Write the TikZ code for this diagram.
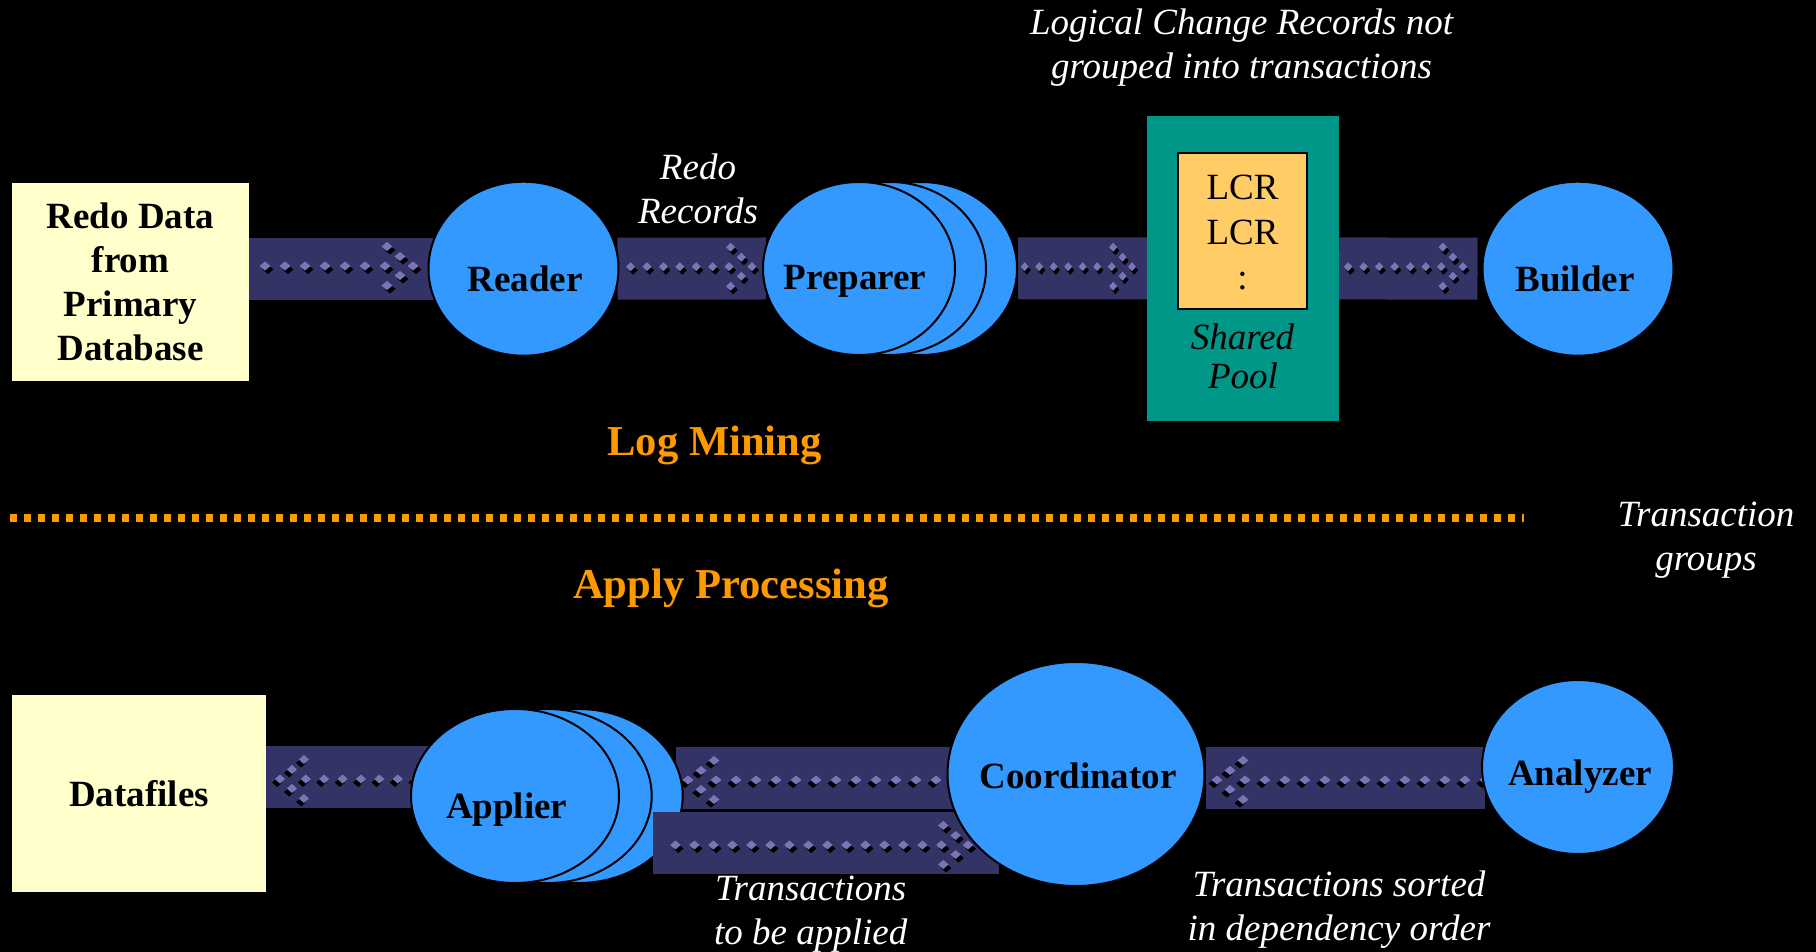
\documentclass[tikz,border=0pt]{standalone}
\usepackage{fontspec}
\setmainfont{Liberation Serif}
\usetikzlibrary{shapes.geometric}
\definecolor{boxyellow}{HTML}{FFFFCC}
\definecolor{procblue}{HTML}{3399FF}
\definecolor{bandcol}{HTML}{333366}
\definecolor{dotlt}{HTML}{7A76B4}
\definecolor{poolteal}{HTML}{009688}
\definecolor{lcrorange}{HTML}{FFCC66}
\definecolor{headorange}{HTML}{FF9900}
\pgfdeclarelayer{back}
\pgfdeclarelayer{bg}
\pgfdeclarelayer{fg}
\pgfsetlayers{back,bg,main,fg}
\tikzset{
  src/.style={rectangle, fill=boxyellow, inner sep=0pt, align=center, font=\bfseries\fontsize{37}{44}\selectfont},
  proc/.style={ellipse, fill=procblue, draw=black, line width=2pt, inner sep=0pt},
  plbl/.style={anchor=base, inner sep=0pt, font=\bfseries\fontsize{37}{44}\selectfont},
  note/.style={anchor=base, inner sep=0pt, text=white, font=\itshape\fontsize{37}{44}\selectfont},
  poolnote/.style={anchor=base, inner sep=0pt, text=black, font=\itshape\fontsize{37}{44}\selectfont},
  lcrtxt/.style={anchor=base, inner sep=0pt, text=black, font=\fontsize{37}{44}\selectfont},
  head/.style={anchor=base, inner sep=0pt, text=headorange, font=\bfseries\fontsize{42.6}{50}\selectfont},
  band/.style={draw=bandcol, line width=62pt},
  pics/dotarrow/.style 2 args={code={
    \begin{scope}[xscale=#1]
      \foreach \dx/\dy in {0/0,-13/-9.5,-13/9.5,-26/-19.5,-26/19.5}{
        \fill[black] (\dx+3,\dy+3.5) +(-5.5,0) -- +(0,-4.5) -- +(5.5,0) -- +(0,4.5) -- cycle;
        \fill[dotlt] (\dx,\dy) +(-5.5,0) -- +(0,-4.5) -- +(5.5,0) -- +(0,4.5) -- cycle;
      }
      \foreach \i in {1,...,#2}{
        \fill[black] (-8-20*\i+3,3.5) +(-5.5,0) -- +(0,-4.5) -- +(5.5,0) -- +(0,4.5) -- cycle;
        \fill[dotlt] (-8-20*\i,0) +(-5.5,0) -- +(0,-4.5) -- +(5.5,0) -- +(0,4.5) -- cycle;
      }
    \end{scope}
  }},
  sepline/.style={draw=headorange, line width=8pt, dash pattern=on 7pt off 7pt},
}
\begin{document}
\begin{tikzpicture}[x=1pt,y=-1pt]
\begin{pgfonlayer}{back}
  \fill[black] (0,0) rectangle (1816,952);
\end{pgfonlayer}
\useasboundingbox (0,0) rectangle (1816,952);

% ---------- top row ----------
\node[src, minimum width=237pt, minimum height=198pt] (redo) at (130.5,282) {Redo Data\\from\\Primary\\Database};
\node[proc, minimum width=190pt, minimum height=174pt] (reader) at (523.5,268.7) {};
\node[proc, minimum width=192pt, minimum height=173pt] (prep3) at (921,268.5) {};
\node[proc, minimum width=192pt, minimum height=173pt] (prep2) at (890,268.5) {};
\node[proc, minimum width=192pt, minimum height=173pt] (prep) at (859,268.5) {};
\node[fill=poolteal, inner sep=0pt, minimum width=192pt, minimum height=305pt] (pool) at (1243,268.4) {};
\node[draw=black, line width=2.7pt, fill=lcrorange, inner sep=0pt, minimum width=129pt, minimum height=156pt] (lcrbox) at (1242.5,231) {};
\node[proc, minimum width=191pt, minimum height=174pt] (builder) at (1578,268.7) {};

% ---------- bottom row ----------
\node[src, minimum width=254.5pt, minimum height=197pt] (datafiles) at (139,793.5) {Datafiles};
\node[proc, minimum width=208pt, minimum height=174pt] (applier3) at (578.7,796) {};
\node[proc, minimum width=208pt, minimum height=174pt] (applier2) at (547.7,796) {};
\node[proc, minimum width=208pt, minimum height=174pt] (applier) at (515,796) {};
\node[proc, minimum width=192pt, minimum height=174pt] (analyzer) at (1578,767) {};
\begin{pgfonlayer}{fg}
  \node[proc, minimum width=257pt, minimum height=224pt] (coord) at (1076,774) {};
  \node[plbl] (coordlbl) at (1078,788) {Coordinator};
\end{pgfonlayer}

% ---------- band connectors ----------
\coordinate (b5r) at ([yshift=19pt]applier.west);
\coordinate (b6l) at ([yshift=18pt]applier3.east);
\coordinate (b7l) at ([yshift=-46.5pt]applier3.east);
\coordinate (b8r) at ([yshift=-10.5pt]analyzer.west);
\begin{pgfonlayer}{bg}
  \draw[band, shorten >=-7pt] (redo.east |- reader.west) -- (reader.west);
  \pic at (413,266) {dotarrow={1}{7}};
  \draw[band, shorten <=-2pt, shorten >=-4pt] (reader.east) -- (prep.west);
  \pic at (752,266.7) {dotarrow={0.82}{7}};
  \draw[band] (prep3.east) -- (pool.west);
  \pic at (1132,266.7) {dotarrow={0.725}{7}};
  \draw[band, shorten >=4pt] (pool.east) -- (builder.west);
  \pic at (1463,266.7) {dotarrow={0.776}{7}};
  \draw[band, shorten <=-20pt] (b5r) -- (b5r -| datafiles.east);
  \pic at (280,779) {dotarrow={-0.92}{7}};
  \draw[band, shorten <=-8pt, shorten >=-8pt] (b6l) -- (b6l -| coord.west);
  \pic at (688,780) {dotarrow={-1}{13}};
  \draw[band, shorten <=-4pt] (b8r) -- (b8r -| coord.east);
  \pic at (1217,780) {dotarrow={-1}{13}};
\end{pgfonlayer}
% lower connector lies over the applier stack, under the coordinator
\draw[band, shorten <=-31pt, shorten >=-52pt] (b7l) -- (b7l -| coord.west);
\pic at (968,845) {dotarrow={0.95}{15}};

% ---------- separator ----------
\draw[sepline] (10,518) -- (1524,518);

% ---------- labels ----------
\node[plbl] (readerlbl) at (525,291) {Reader};
\node[plbl] (preplbl) at (855,290) {Preparer};
\node[plbl] (builderlbl) at (1575,291) {Builder};
\node[note] (redo1) at (698,180) {Redo};
\node[note] (redo2) at (698,224) {Records};
\node[note] (lcrn1) at (1241.6,35) {Logical Change Records not};
\node[note] (lcrn2) at (1241.6,79) {grouped into transactions};
\node[lcrtxt] (lcr1) at (1242.5,200) {LCR};
\node[lcrtxt] (lcr2) at (1242.5,245) {LCR};
\node[lcrtxt] (lcr3) at (1242.5,290) {:};
\node[poolnote] (pool1) at (1242.5,349) {Shared};
\node[poolnote] (pool2) at (1243,388) {Pool};
\node[head] (logmin) at (714.6,455) {Log Mining};
\node[note] (tg1) at (1706,526) {Transaction};
\node[note] (tg2) at (1706,570) {groups};
\node[head] (applyp) at (730.8,598) {Apply Processing};
\node[plbl] (applierlbl) at (506.7,818) {Applier};
\node[plbl] (analyzerlbl) at (1580,785) {Analyzer};
\node[note] (tba1) at (810.7,900) {Transactions};
\node[note] (tba2) at (810.7,944) {to be applied};
\node[note] (tso1) at (1339,896) {Transactions sorted};
\node[note] (tso2) at (1339,940) {in dependency order};
\end{tikzpicture}
\end{document}
